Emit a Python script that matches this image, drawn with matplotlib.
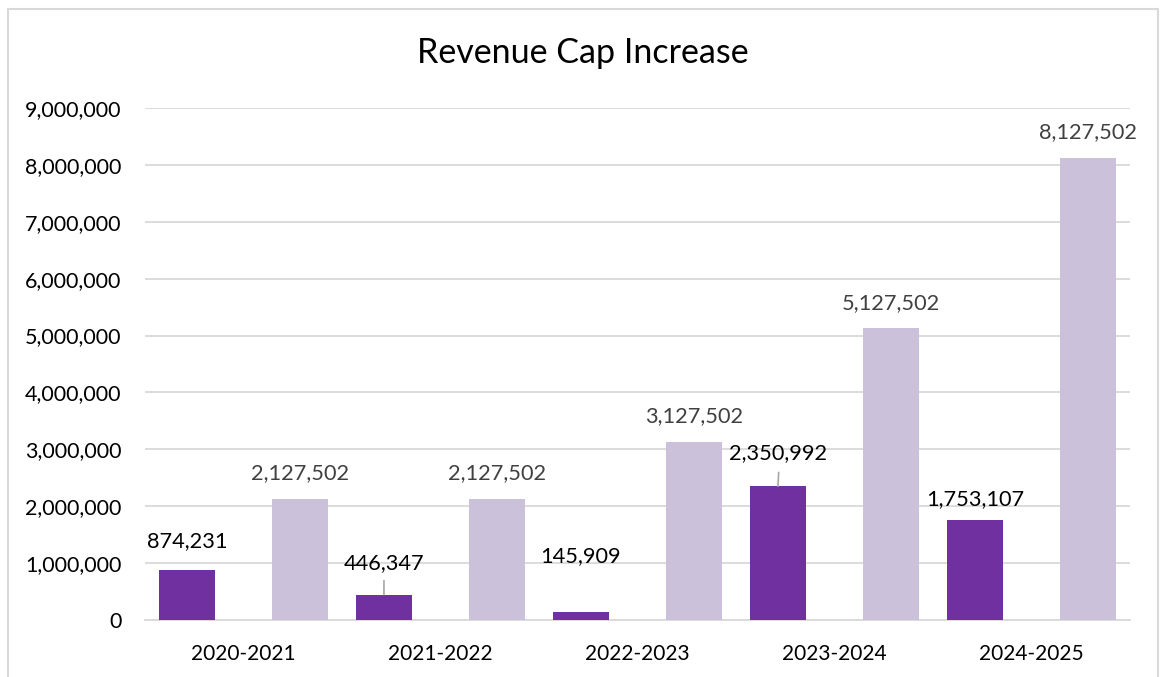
import numpy as np
import matplotlib.pyplot as plt
from matplotlib.ticker import FuncFormatter
from matplotlib.patches import Rectangle

plt.rcParams['font.family'] = ['Lato', 'DejaVu Sans']

years = ['2020-2021', '2021-2022', '2022-2023', '2023-2024', '2024-2025']
increase = [874231, 446347, 145909, 2350992, 1753107]
cap_total = [2127502, 2127502, 3127502, 5127502, 8127502]

dark = '#7030A0'
light = '#CBC1DB'
grid = '#D9D9D9'

fig = plt.figure(figsize=(11.61, 6.77), dpi=100)
ax = fig.add_axes([145/1161, 1-620/677, (1130-145)/1161, (620-108)/677])

x = np.arange(len(years))
w = 0.287
b1 = ax.bar(x - w, increase, w, color=dark, zorder=3)
b2 = ax.bar(x + w, cap_total, w, color=light, zorder=3)

ax.set_xlim(-0.5, len(years) - 0.5)
ax.set_ylim(0, 9000000)
ax.set_yticks(np.arange(0, 9000001, 1000000))
ax.yaxis.set_major_formatter(FuncFormatter(lambda v, p: f'{int(v):,}'))
ax.set_xticks(x)
ax.set_xticklabels(years)
ax.grid(axis='y', color=grid, linewidth=1.3, zorder=0)
for s in ['top', 'right', 'left']:
    ax.spines[s].set_visible(False)
ax.spines['bottom'].set_color(grid)
ax.spines['bottom'].set_linewidth(1.3)
ax.tick_params(axis='both', length=0, labelsize=15)
ax.tick_params(axis='y', pad=17, labelsize=15.5)
ax.tick_params(axis='x', pad=17)

# label offsets above bar top (points); the two with leader lines sit higher
dark_off = [21, 23, 40, 24, 15]
for i, v in enumerate(increase):
    ax.annotate(f'{v:,}', (x[i] - w, v), xytext=(0, dark_off[i]),
                textcoords='offset points', ha='center', va='center',
                fontsize=15.7, color='black')
for i in [1, 3]:
    v = increase[i]
    ax.annotate('', (x[i] - w, v), xytext=(0.5 if i == 3 else 0, 10),
                textcoords='offset points',
                arrowprops=dict(arrowstyle='-', color='#A6A6A6', lw=1.2,
                                shrinkA=0, shrinkB=0))
for i, v in enumerate(cap_total):
    ax.annotate(f'{v:,}', (x[i] + w, v), xytext=(0, 18.5),
                textcoords='offset points', ha='center', va='center',
                fontsize=15.7, color='#404040')

fig.text(583/1161, 1-53/677, 'Revenue Cap Increase', ha='center', va='center',
         fontsize=24.5, color='black')

fig.patches.append(Rectangle((8/1161, -0.1), 1150/1161, 1.1 - 9/677,
                             transform=fig.transFigure, fill=False,
                             edgecolor='#D9D9D9', linewidth=1.5))

plt.savefig('out.png', dpi=100)
plt.close('all')
